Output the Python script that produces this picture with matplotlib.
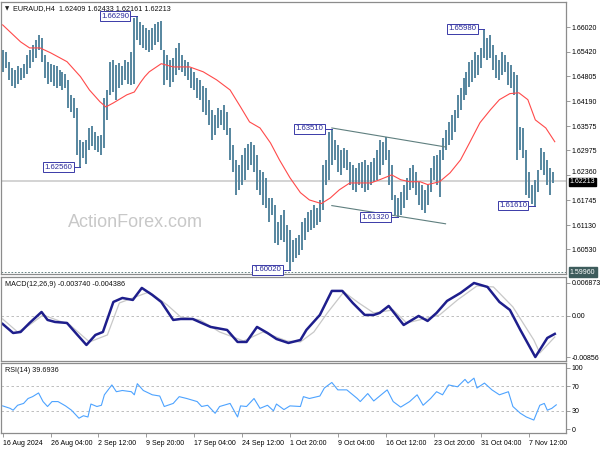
import matplotlib
matplotlib.use("Agg")
import matplotlib.pyplot as plt
import matplotlib.transforms as mtransforms

plt.rcParams['font.family'] = ['Liberation Sans', 'DejaVu Sans']

# H4 bar index of every second bar
bar_idx = list(range(0, 370, 2))
highs = [
    1.6546, 1.6541, 1.6517, 1.6502, 1.6497, 1.6507, 1.6502, 1.6512, 1.6534, 1.6546,
    1.6559, 1.6571, 1.6583, 1.6576, 1.6534, 1.6517, 1.6512, 1.6509, 1.6507, 1.6497,
    1.6492, 1.6487, 1.6472, 1.6435, 1.6428, 1.6403, 1.6324, 1.6319, 1.6324, 1.6353,
    1.6358, 1.6344, 1.6334, 1.6336, 1.6428, 1.6447, 1.6517, 1.6522, 1.6509, 1.6514,
    1.6507, 1.6522, 1.6517, 1.6541, 1.6626, 1.6629, 1.6616, 1.6608, 1.6601, 1.6596,
    1.6601, 1.6611, 1.6616, 1.6618, 1.6546, 1.6534, 1.6522, 1.6527, 1.6551, 1.6564,
    1.6534, 1.6522, 1.6517, 1.6502, 1.6492, 1.6477, 1.6472, 1.6457, 1.6452, 1.6423,
    1.6398, 1.6386, 1.6403, 1.6398, 1.6410, 1.6393, 1.6353, 1.6311, 1.6274, 1.6262,
    1.6287, 1.6304, 1.6314, 1.6319, 1.6311, 1.6287, 1.6250, 1.6245, 1.6230, 1.6180,
    1.6180, 1.6163, 1.6121, 1.6138, 1.6151, 1.6114, 1.6101, 1.6076, 1.6081, 1.6089,
    1.6121, 1.6131, 1.6146, 1.6151, 1.6163, 1.6156, 1.6175, 1.6262, 1.6274, 1.6344,
    1.6351, 1.6324, 1.6311, 1.6299, 1.6304, 1.6299, 1.6269, 1.6262, 1.6255, 1.6267,
    1.6269, 1.6274, 1.6262, 1.6269, 1.6279, 1.6299, 1.6324, 1.6319, 1.6331, 1.6299,
    1.6262, 1.6188, 1.6180, 1.6195, 1.6213, 1.6230, 1.6255, 1.6262, 1.6245, 1.6220,
    1.6213, 1.6200, 1.6213, 1.6255, 1.6284, 1.6287, 1.6299, 1.6329, 1.6348, 1.6368,
    1.6386, 1.6398, 1.6435, 1.6452, 1.6477, 1.6492, 1.6517, 1.6522, 1.6541, 1.6534,
    1.6551, 1.6598, 1.6576, 1.6583, 1.6559, 1.6534, 1.6522, 1.6541, 1.6534, 1.6517,
    1.6509, 1.6492, 1.6485, 1.6356, 1.6353, 1.6299, 1.6245, 1.6213, 1.6225, 1.6250,
    1.6304, 1.6294, 1.6274, 1.6255, 1.6243,
]
lows = [
    1.6492, 1.6502, 1.6472, 1.6457, 1.6452, 1.6462, 1.6472, 1.6477, 1.6487, 1.6502,
    1.6517, 1.6527, 1.6546, 1.6517, 1.6477, 1.6462, 1.6467, 1.6457, 1.6452, 1.6457,
    1.6447, 1.6452, 1.6403, 1.6393, 1.6378, 1.6287, 1.6256, 1.6279, 1.6264, 1.6299,
    1.6309, 1.6299, 1.6294, 1.6287, 1.6304, 1.6373, 1.6435, 1.6443, 1.6423, 1.6452,
    1.6460, 1.6472, 1.6462, 1.6460, 1.6462, 1.6571, 1.6559, 1.6551, 1.6546, 1.6541,
    1.6546, 1.6559, 1.6566, 1.6546, 1.6460, 1.6472, 1.6455, 1.6467, 1.6485, 1.6497,
    1.6492, 1.6482, 1.6472, 1.6452, 1.6447, 1.6428, 1.6423, 1.6393, 1.6386, 1.6361,
    1.6324, 1.6336, 1.6353, 1.6361, 1.6348, 1.6336, 1.6274, 1.6245, 1.6188, 1.6200,
    1.6213, 1.6225, 1.6250, 1.6262, 1.6245, 1.6200, 1.6188, 1.6163, 1.6156, 1.6121,
    1.6138, 1.6069, 1.6064, 1.6076, 1.6072, 1.6022, 1.6002, 1.6022, 1.6032, 1.6039,
    1.6052, 1.6076, 1.6096, 1.6101, 1.6106, 1.6114, 1.6121, 1.6151, 1.6213, 1.6225,
    1.6262, 1.6274, 1.6245, 1.6237, 1.6255, 1.6250, 1.6213, 1.6200, 1.6195, 1.6213,
    1.6205, 1.6195, 1.6200, 1.6213, 1.6220, 1.6225, 1.6237, 1.6262, 1.6274, 1.6213,
    1.6175, 1.6138, 1.6132, 1.6138, 1.6156, 1.6175, 1.6200, 1.6205, 1.6188, 1.6163,
    1.6151, 1.6143, 1.6163, 1.6195, 1.6225, 1.6213, 1.6183, 1.6274, 1.6299, 1.6311,
    1.6324, 1.6344, 1.6378, 1.6398, 1.6423, 1.6435, 1.6455, 1.6467, 1.6477, 1.6485,
    1.6502, 1.6527, 1.6522, 1.6527, 1.6497, 1.6477, 1.6472, 1.6485, 1.6492, 1.6460,
    1.6452, 1.6435, 1.6274, 1.6299, 1.6279, 1.6188, 1.6180, 1.6166, 1.6161, 1.6195,
    1.6250, 1.6237, 1.6213, 1.6188, 1.6216,
]
last_close = 1.62213
chart_low = 1.59960

# moving average (red)
ma_idx = [0, 12, 18, 25, 32, 43, 52, 58, 65, 69, 74, 83, 88, 92, 95, 98, 106, 114,
          125, 134, 143, 152, 159, 165, 172, 179, 185, 192, 199, 205, 213, 219, 225,
          232, 239, 246, 252, 260, 266, 272, 279, 284, 292, 299, 306, 312, 319, 326,
          332, 339, 345, 351, 356, 363, 369]
ma_val = [1.6608, 1.6566, 1.6551, 1.6551, 1.6539, 1.6517, 1.6480, 1.6447, 1.6418,
          1.6405, 1.6415, 1.6435, 1.6442, 1.6465, 1.6480, 1.6492, 1.6512, 1.6504,
          1.6504, 1.6492, 1.6472, 1.6447, 1.6405, 1.6368, 1.6353, 1.6316, 1.6274,
          1.6230, 1.6193, 1.6175, 1.6166, 1.6180, 1.6200, 1.6217, 1.6217, 1.6217,
          1.6225, 1.6237, 1.6225, 1.6220, 1.6220, 1.6213, 1.6220, 1.6242, 1.6274,
          1.6316, 1.6366, 1.6398, 1.6423, 1.6438, 1.6440, 1.6423, 1.6373, 1.6353,
          1.6319]

# channel lines
chan_idx = [220, 296]
chan_top = [1.6353, 1.6306]
chan_bot = [1.6161, 1.6116]

# marked highs / lows
hl_idx = [90, 52, 220, 192, 264, 322, 356]
hl_val = [1.66290, 1.62560, 1.63510, 1.60020, 1.61320, 1.65980, 1.61610]

# MACD(12,26,9)
macd_idx = [0, 7, 12, 18, 26, 30, 35, 43, 50, 56, 62, 67, 74, 80, 87, 93, 100, 106,
            114, 119, 127, 139, 150, 157, 163, 170, 177, 183, 191, 199, 203, 212,
            220, 227, 234, 242, 248, 252, 258, 268, 278, 284, 290, 297, 306, 315,
            324, 332, 339, 346, 356, 364, 369]
macd_val = [-0.00167, -0.00355, -0.00334, -0.00146, 0.00083, -0.00083, -0.00125,
            -0.00146, -0.00396, -0.00605, -0.00396, -0.00334, 0.00292, 0.00375,
            0.00334, 0.00584, 0.00438, 0.00292, -0.00083, -0.00063, -0.00063,
            -0.00229, -0.00292, -0.00542, -0.00542, -0.00229, -0.00355, -0.00480,
            -0.00563, -0.00501, -0.00292, 0.00021, 0.00522, 0.00522, 0.00271,
            0.00021, 0.00021, 0.00063, 0.00209, -0.00188, 0.0, -0.00104, 0.00063,
            0.00313, 0.00480, 0.00687, 0.00605, 0.00292, 0.00125, -0.00292,
            -0.00856, -0.00459, -0.00374]
sig_idx = [0, 10, 18, 27, 36, 45, 58, 70, 78, 87, 98, 110, 119, 132, 145, 161, 174,
           190, 199, 208, 217, 228, 238, 248, 261, 270, 284, 292, 304, 317, 328,
           341, 355, 359, 369]
sig_val = [-0.00063, -0.00334, -0.00188, 0.00021, -0.00083, -0.00188, -0.00542,
           -0.00396, 0.00271, 0.00375, 0.00501, 0.00229, -0.00021, -0.00083,
           -0.00334, -0.00522, -0.00334, -0.00522, -0.00542, -0.00334, 0.00063,
           0.00501, 0.00271, 0.00063, 0.00125, -0.00146, -0.00042, 0.00021,
           0.00334, 0.00626, 0.00605, 0.00188, -0.00501, -0.00772, -0.00439]

# RSI(14)
rsi_idx = [0, 5, 7, 10, 14, 17, 20, 24, 27, 30, 33, 37, 42, 46, 51, 54, 57, 59, 63,
           66, 68, 73, 76, 80, 86, 88, 90, 94, 100, 105, 108, 114, 118, 123, 130,
           133, 137, 142, 145, 152, 157, 159, 163, 168, 172, 177, 181, 183, 188,
           192, 199, 201, 205, 212, 215, 220, 224, 230, 237, 239, 244, 248, 254,
           257, 261, 266, 272, 277, 281, 286, 290, 294, 298, 304, 309, 311, 315,
           317, 322, 327, 332, 338, 341, 346, 350, 355, 359, 362, 364, 367, 370]
rsi_val = [38, 34, 31, 39, 42, 50, 53, 59, 45, 37, 45, 45, 38, 31, 18, 22, 20, 41,
           37, 39, 56, 72, 61, 63, 61, 56, 74, 63, 56, 54, 37, 42, 53, 50, 45, 37,
           39, 26, 37, 42, 20, 38, 37, 50, 34, 39, 30, 41, 32, 38, 37, 53, 50, 54,
           67, 76, 64, 64, 50, 45, 58, 46, 58, 64, 45, 36, 45, 56, 39, 50, 61, 56,
           72, 69, 81, 75, 83, 67, 75, 64, 56, 61, 37, 26, 20, 15, 39, 42, 31, 34,
           39.69]

price_ticks = [1.66020, 1.65420, 1.64805, 1.64190, 1.63575, 1.62975, 1.62360,
               1.61745, 1.61130, 1.60530]
x_tick_idx = [0, 32, 64, 96, 128, 160, 192, 224, 256, 288, 320, 352]
x_tick_lbl = ["16 Aug 2024", "26 Aug 04:00", "2 Sep 12:00", "9 Sep 20:00",
              "17 Sep 04:00", "24 Sep 12:00", "1 Oct 20:00", "9 Oct 04:00",
              "16 Oct 12:00", "23 Oct 20:00", "31 Oct 04:00", "7 Nov 12:00"]

frame = '#8c8c8c'
fig = plt.figure(figsize=(6, 4.5), dpi=100)
ax = fig.add_axes([1 / 600, 1 - 274 / 450, 565 / 600, 272 / 450])
axm = fig.add_axes([1 / 600, 1 - 361 / 450, 565 / 600, 84 / 450])
axr = fig.add_axes([1 / 600, 1 - 433 / 450, 565 / 600, 70 / 450])

for a in (ax, axm, axr):
    a.set_xlim(-1.1, 376.5)
    for s in a.spines.values():
        s.set_color(frame)
        s.set_linewidth(0.9)
    a.yaxis.tick_right()
    a.tick_params(axis='y', labelsize=5, length=3, width=0.6, color=frame, pad=1)
    a.set_xticks([])

# --- price panel ---
ax.set_ylim(1.59918, 1.66646)
ax.axhline(last_close, color='#cccccc', lw=1.2, zorder=0)
ax.axhline(chart_low, color='#4f7070', lw=0.6, ls=(0, (2, 2)), zorder=1)
ax.vlines(bar_idx, lows, highs, color='#56869f', lw=1.4, zorder=2)
ax.plot(ma_idx, ma_val, color='#ff4a4a', lw=0.8, zorder=3)
ax.plot(chan_idx, chan_top, color='#5f7f7f', lw=0.8, zorder=3)
ax.plot(chan_idx, chan_bot, color='#5f7f7f', lw=0.8, zorder=3)
ax.set_yticks(price_ticks)
ax.set_yticklabels([f"{v:.5f}" for v in price_ticks])
# nudge the label that sits right above the last-price box
lbl = ax.get_yticklabels()[6]
lbl.set_transform(lbl.get_transform() +
                  mtransforms.ScaledTranslation(0, 2.5 / 72, fig.dpi_scale_trans))

for i, v in zip(hl_idx, hl_val):
    ax.plot([i - 5, i], [v, v], color='#3a3aa8', lw=0.7, zorder=4)
    ax.text(i - 5.5, v, f"{v:.5f}", ha='right', va='center', fontsize=5.6,
            color='#2a2a9a', zorder=5,
            bbox=dict(boxstyle='square,pad=0.18', fc='white', ec='#3a3aa8', lw=0.7))

tr = mtransforms.blended_transform_factory(ax.transAxes, ax.transData)
ax.text(1.007, last_close - 0.00012, f"{last_close:.5f}", transform=tr, ha='left',
        va='center', fontsize=5, color='white', clip_on=False,
        bbox=dict(boxstyle='square,pad=0.1', fc='black', ec='black'))
ax.text(1.007, chart_low, f"{chart_low:.5f}", transform=tr, ha='left', va='center',
        fontsize=5, color='white', clip_on=False,
        bbox=dict(boxstyle='square,pad=0.2', fc='#3d5c5c', ec='#3d5c5c'))

ax.text(0.007, 0.985, "\u25bc", transform=ax.transAxes, ha='left', va='top',
        fontsize=4, color='#222222', family=['DejaVu Sans'])
ax.text(0.022, 0.988, "EURAUD,H4  1.62409 1.62433 1.62161 1.62213",
        transform=ax.transAxes, ha='left', va='top', fontsize=5.2, color='#111111')
ax.text(0.119, 0.19, "ActionForex.com", transform=ax.transAxes, ha='left',
        va='center', fontsize=13, color='#c8c8c8', zorder=1)

# --- MACD panel ---
axm.set_ylim(-0.00939, 0.00812)
axm.axhline(0, color='#b4b4b4', lw=0.6, ls=(0, (3, 3)))
axm.plot(sig_idx, sig_val, color='#c8c8c8', lw=0.9)
axm.plot(macd_idx, macd_val, color='#1e1e8c', lw=1.8)
axm.set_yticks([0.006873, 0.0, -0.00856])
axm.set_yticklabels(["0.006873", "0.00", "-0.00856"])
axm.text(0.007, 0.95, "MACD(12,26,9) -0.003740 -0.004386", transform=axm.transAxes,
         ha='left', va='top', fontsize=5.2, color='#111111')

# --- RSI panel ---
axr.set_ylim(-6, 107.6)
axr.axhline(70, color='#b4b4b4', lw=0.6, ls=(0, (3, 3)))
axr.axhline(30, color='#b4b4b4', lw=0.6, ls=(0, (3, 3)))
axr.plot(rsi_idx, rsi_val, color='#4da3ff', lw=0.8)
axr.set_yticks([100, 70, 30, 0])
axr.set_yticklabels(["100", "70", "30", "0"])
axr.text(0.007, 0.95, "RSI(14) 39.6936", transform=axr.transAxes,
         ha='left', va='top', fontsize=5.2, color='#111111')

axr.set_xticks(x_tick_idx)
axr.set_xticklabels(x_tick_lbl, ha='left')
axr.tick_params(axis='x', labelsize=5, length=3, width=0.6, color=frame, pad=2)

fig.savefig("out.png", dpi=100, facecolor='white')
